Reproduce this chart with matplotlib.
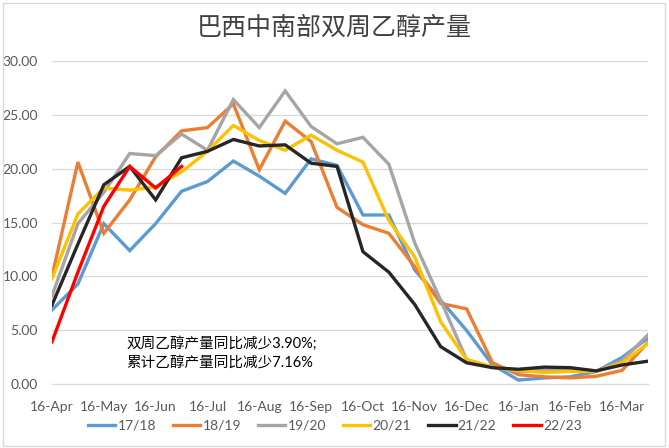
import matplotlib
matplotlib.use("Agg")
import matplotlib.pyplot as plt
import matplotlib.patches as mpatches

plt.rcParams['font.family'] = ['Lato', 'Noto Sans CJK SC', 'DejaVu Sans']

# biweekly periods, Apr -> Mar
tick_labels = ['16-Apr', '16-May', '16-Jun', '16-Jul', '16-Aug', '16-Sep',
               '16-Oct', '16-Nov', '16-Dec', '16-Jan', '16-Feb', '16-Mar']

s1718 = [6.9, 9.3, 14.9, 12.4, 14.9, 17.9, 18.8, 20.7, 19.3, 17.7, 20.9, 20.3,
         15.7, 15.7, 10.6, 7.8, 5.0, 1.8, 0.4, 0.6, 0.7, 1.2, 2.5, 4.3]
s1819 = [10.0, 20.6, 14.0, 17.1, 21.1, 23.5, 23.8, 26.0, 19.9, 24.4, 22.5, 16.4,
         14.8, 14.0, 10.9, 7.5, 7.0, 2.0, 0.9, 0.7, 0.6, 0.75, 1.3, 3.9]
s1920 = [8.2, 14.9, 17.8, 21.4, 21.2, 23.2, 21.7, 26.4, 23.8, 27.2, 23.9, 22.3,
         22.9, 20.4, 13.1, 7.8, 2.3, 1.6, 1.2, 1.3, 1.4, 1.2, 2.2, 4.6]
s2021 = [9.8, 15.8, 18.2, 18.0, 18.3, 19.7, 21.6, 24.0, 22.6, 21.7, 23.1, 21.7,
         20.6, 15.2, 11.8, 5.8, 2.3, 1.6, 1.3, 1.1, 1.2, 1.2, 2.0, 3.8]
s2122 = [7.35, 13.0, 18.5, 20.2, 17.1, 21.0, 21.6, 22.7, 22.1, 22.2, 20.5, 20.2,
         12.3, 10.4, 7.4, 3.5, 2.0, 1.55, 1.4, 1.6, 1.55, 1.25, 1.8, 2.15]
s2223 = [3.95, 10.4, 16.5, 20.2, 18.2, 20.2]

series = [('17/18', s1718, '#5B9BD5'),
          ('18/19', s1819, '#ED7D31'),
          ('19/20', s1920, '#A5A5A5'),
          ('20/21', s2021, '#FFC000'),
          ('21/22', s2122, '#262626'),
          ('22/23', s2223, '#FF0000')]

fig = plt.figure(figsize=(6.69, 4.48), dpi=100)
ax = fig.add_axes([0.0777, 0.142, 0.8909, 0.7225])

for name, vals, col in series:
    ax.plot(range(len(vals)), vals, color=col, lw=2.4, label=name,
            solid_joinstyle='miter')

ax.set_xlim(0, 23)
ax.set_ylim(0, 30)
ax.set_yticks(range(0, 31, 5))
ax.set_yticklabels(['%.2f' % v for v in range(0, 31, 5)])
ax.set_xticks(range(0, 24, 2))
ax.set_xticklabels(tick_labels)
ax.tick_params(length=0, colors='#595959', labelsize=10)
ax.tick_params(axis='x', pad=12)
ax.tick_params(axis='y', pad=10)
ax.grid(axis='y', color='#D9D9D9', lw=0.9)
ax.set_axisbelow(True)
for sp in ['left', 'right', 'top']:
    ax.spines[sp].set_visible(False)
ax.spines['bottom'].set_color('#D9D9D9')

fig.text(0.5, 0.94, '巴西中南部双周乙醇产量', ha='center', va='center',
         fontsize=18, color='#404040')

ax.text(0.125, 0.095, '双周乙醇产量同比减少3.90%;\n累计乙醇产量同比减少7.16%',
        transform=ax.transAxes, fontsize=10.5, color='#000000',
        linespacing=1.5, va='center')

fig.legend(loc='center', bbox_to_anchor=(0.5, 0.05), ncol=6, frameon=False,
           fontsize=10, handlelength=2.0, handletextpad=0.15,
           columnspacing=1.2, labelcolor='#595959')

fig.patches.append(mpatches.Rectangle((0.004, 0.004), 0.99, 0.99,
                                      transform=fig.transFigure, fill=False,
                                      edgecolor='#D9D9D9', lw=1))

fig.savefig('out.png', dpi=100)
